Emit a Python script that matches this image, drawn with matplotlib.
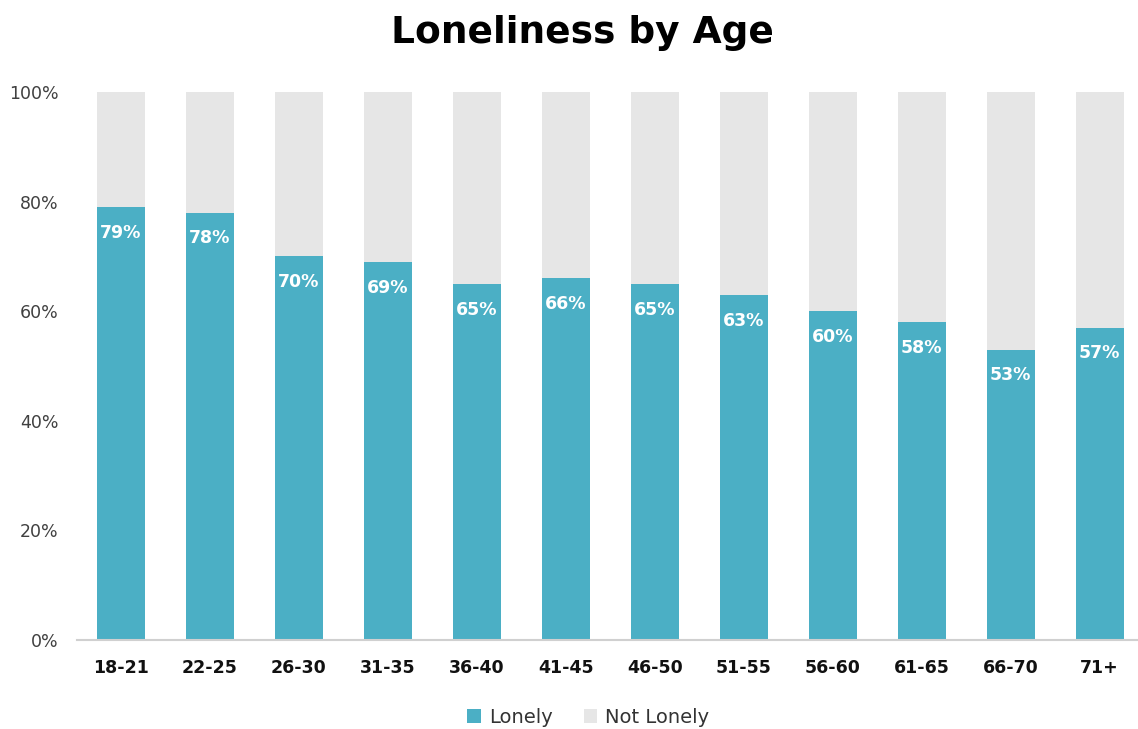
import matplotlib.pyplot as plt
import numpy as np
from matplotlib.ticker import FuncFormatter

# --- DATA ---
age_groups = ['18-21', '22-25', '26-30', '31-35', '36-40', '41-45',
              '46-50', '51-55', '56-60', '61-65', '66-70', '71+']
lonely = [79, 78, 70, 69, 65, 66, 65, 63, 60, 58, 53, 57]
not_lonely = [100 - v for v in lonely]

TEAL = '#4bafc5'
GREY = '#e6e6e6'

plt.rcParams['font.family'] = ['DejaVu Sans']

fig = plt.figure(figsize=(11.38, 7.29), dpi=100)
ax = fig.add_axes([76.5 / 1138, 89 / 729, 1061.5 / 1138, 548 / 729])

x = np.arange(len(age_groups))
width = 0.54
ax.bar(x, lonely, width, color=TEAL, label='Lonely')
ax.bar(x, not_lonely, width, bottom=lonely, color=GREY, label='Not Lonely')

# value labels just inside the top of each teal bar
for xi, v in zip(x, lonely):
    ax.text(xi, v - 4.7, f'{v}%', ha='center', va='center',
            color='white', fontsize=12.5, fontweight='bold')

ax.set_xlim(-0.5, 11.43)
ax.set_ylim(0, 100)
ax.set_xticks(x)
ax.set_xticklabels(age_groups, fontsize=12.5, fontweight='bold', color='#111111')
ax.set_yticks(np.arange(0, 101, 20))
ax.yaxis.set_major_formatter(FuncFormatter(lambda v, _: f'{v:.0f}%'))
ax.tick_params(axis='y', labelsize=12.5, labelcolor='#404040', length=0, pad=13)
ax.tick_params(axis='x', length=0, pad=14)

for side in ['top', 'right', 'left']:
    ax.spines[side].set_visible(False)
ax.spines['bottom'].set_color('#d0d0d0')
ax.spines['bottom'].set_linewidth(1.5)

fig.text(0.512, 0.955, 'Loneliness by Age', ha='center', va='center',
         fontsize=27, fontweight='bold', color='black')

fig.legend(loc='center', bbox_to_anchor=(0.517, 0.016), ncol=2, frameon=False,
           fontsize=14, handlelength=0.7, handleheight=0.7, handletextpad=0.4,
           columnspacing=1.6, labelcolor='#333333')

fig.savefig('out.png', dpi=100)
